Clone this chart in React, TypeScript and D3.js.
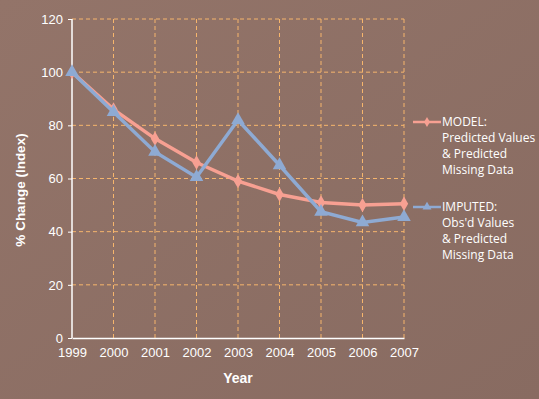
import React, { useEffect, useRef } from "react";
import * as d3 from "d3";

const years = ["1999", "2000", "2001", "2002", "2003", "2004", "2005", "2006", "2007"];
const modelValues = [100, 86, 75, 66, 59, 54, 51, 50, 50.5];
const imputedValues = [100, 85, 70, 60.5, 82, 65, 47.5, 43.5, 45.5];
const yTicks = [0, 20, 40, 60, 80, 100, 120];
const modelLegend = ["MODEL:", "Predicted Values", "& Predicted", "Missing Data"];
const imputedLegend = ["IMPUTED:", "Obs'd Values", "& Predicted", "Missing Data"];

export default function App() {
  const ref = useRef<SVGSVGElement>(null);

  useEffect(() => {
    const svg = d3.select(ref.current);
    svg.selectAll("*").remove();

    const width = 539,
      height = 399;
    const margin = { top: 19, right: 135, bottom: 61, left: 72 };
    const w = width - margin.left - margin.right;
    const h = height - margin.top - margin.bottom;

    const defs = svg.append("defs");
    const grad = defs
      .append("linearGradient")
      .attr("id", "bg")
      .attr("x1", "0")
      .attr("y1", "0")
      .attr("x2", "1")
      .attr("y2", "1");
    grad.append("stop").attr("offset", "0%").attr("stop-color", "#937469");
    grad.append("stop").attr("offset", "100%").attr("stop-color", "#886b61");

    svg.append("rect").attr("width", width).attr("height", height).attr("fill", "url(#bg)");

    const x = d3.scalePoint().domain(years).range([0, w]);
    const y = d3.scaleLinear().domain([0, 120]).range([h, 0]);

    const g = svg.append("g").attr("transform", `translate(${margin.left},${margin.top})`);

    // grid
    g.selectAll(".hgrid")
      .data(yTicks.filter(d => d > 0))
      .enter()
      .append("line")
      .attr("x1", 0)
      .attr("x2", w)
      .attr("y1", d => y(d))
      .attr("y2", d => y(d))
      .attr("stroke", "#f6b56c")
      .attr("stroke-dasharray", "4,3");
    g.selectAll(".vgrid")
      .data(years.slice(1))
      .enter()
      .append("line")
      .attr("x1", d => x(d)!)
      .attr("x2", d => x(d)!)
      .attr("y1", 0)
      .attr("y2", h)
      .attr("stroke", "#f6b56c")
      .attr("stroke-dasharray", "4,3");

    // axes
    const yAxis = g.append("g").call(d3.axisLeft(y).tickValues(yTicks).tickSize(4).tickPadding(5));
    yAxis.select(".domain").attr("stroke", "#fff").attr("stroke-width", 1.5).attr("d", `M0,${h}V0`);
    yAxis.selectAll(".tick line").attr("stroke", "#fff");
    yAxis
      .selectAll("text")
      .attr("fill", "#fff")
      .style("font-family", "Liberation Sans, Arial, sans-serif")
      .style("font-size", "13px");

    const xAxis = g
      .append("g")
      .attr("transform", `translate(0,${h})`)
      .call(d3.axisBottom(x).tickSize(0).tickPadding(10));
    xAxis.select(".domain").attr("stroke", "#fff").attr("stroke-width", 1.5);
    xAxis
      .selectAll("text")
      .attr("fill", "#fff")
      .style("font-family", "Liberation Sans, Arial, sans-serif")
      .style("font-size", "13px");

    // titles
    svg
      .append("text")
      .attr("x", margin.left + w / 2)
      .attr("y", 383)
      .attr("text-anchor", "middle")
      .attr("fill", "#fff")
      .style("font-family", "Liberation Sans, Arial, sans-serif")
      .style("font-weight", "bold")
      .style("font-size", "14px")
      .text("Year");
    svg
      .append("text")
      .attr("transform", `translate(25,190) rotate(-90)`)
      .attr("text-anchor", "middle")
      .attr("fill", "#fff")
      .style("font-family", "Liberation Sans, Arial, sans-serif")
      .style("font-weight", "bold")
      .style("font-size", "13.5px")
      .text("% Change (Index)");

    const line = d3
      .line<number>()
      .x((d, i) => x(years[i])!)
      .y(d => y(d));

    const modelColor = "#f7a092";
    const imputedColor = "#8eaad3";

    g.append("path")
      .datum(modelValues)
      .attr("d", line)
      .attr("fill", "none")
      .attr("stroke", modelColor)
      .attr("stroke-width", 3.5);
    g.selectAll(".mdot")
      .data(modelValues)
      .enter()
      .append("path")
      .attr("d", d3.symbol(d3.symbolDiamond, 60)())
      .attr("transform", (d, i) => `translate(${x(years[i])},${y(d)})`)
      .attr("fill", modelColor);

    g.append("path")
      .datum(imputedValues)
      .attr("d", line)
      .attr("fill", "none")
      .attr("stroke", imputedColor)
      .attr("stroke-width", 3.5);
    g.selectAll(".idot")
      .data(imputedValues)
      .enter()
      .append("path")
      .attr("d", d3.symbol(d3.symbolTriangle, 80)())
      .attr("transform", (d, i) => `translate(${x(years[i])},${y(d)})`)
      .attr("fill", imputedColor);

    // legend
    const legend = [
      { lines: modelLegend, color: modelColor, sym: d3.symbolDiamond, size: 30, y0: 122 },
      { lines: imputedLegend, color: imputedColor, sym: d3.symbolTriangle, size: 35, y0: 207 }
    ];
    legend.forEach(l => {
      const lg = svg.append("g");
      lg.append("line")
        .attr("x1", 413)
        .attr("x2", 441)
        .attr("y1", l.y0)
        .attr("y2", l.y0)
        .attr("stroke", l.color)
        .attr("stroke-width", 2.5);
      lg.append("path")
        .attr("d", d3.symbol(l.sym, l.size)())
        .attr("transform", `translate(427,${l.y0})`)
        .attr("fill", l.color);
      l.lines.forEach((t, i) => {
        lg.append("text")
          .attr("x", 442)
          .attr("y", l.y0 + 4 + i * 16)
          .attr("fill", "#fff")
          .style("font-family", "Open Sans, sans-serif")
          .style("font-size", "12px")
          .text(t);
      });
    });
  }, []);

  return (
    <svg
      ref={ref}
      width={539}
      height={399}
      style={{ position: "absolute", left: 0, top: 0, display: "block" }}
    />
  );
}
